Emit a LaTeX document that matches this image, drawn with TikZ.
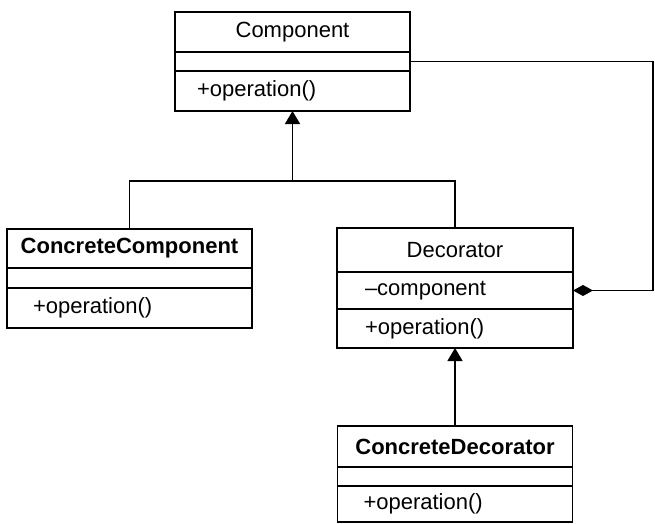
\documentclass[tikz,border=0pt]{standalone}
\usepackage{fontspec}
\setmainfont{Liberation Sans}
\usetikzlibrary{positioning,arrows.meta}

\newcommand\umlfont{\fontsize{22}{24}\selectfont}

\tikzset{
  compart/.style={draw, line width=1.4pt, outer sep=0pt, inner sep=0pt, font=\umlfont},
  classname/.style={compart, align=center},
  member/.style={compart, align=left, inner xsep=26pt},
  inherit/.style={line width=1.4pt, -{Triangle[length=13pt,width=15pt]}},
  compose/.style={line width=1.4pt, {Diamond[length=20pt,width=11pt]}-}
}

\begin{document}
\begin{tikzpicture}[x=1pt,y=-1pt,node distance=0pt]
\useasboundingbox (0,0) rectangle (655,524);

% Component
\node[classname, minimum width=235, minimum height=40, text width=235] (compname) at (292.5,32) {Component};
\node[member, minimum width=235, minimum height=19, text width=191, inner xsep=22pt, below=of compname] (compattr) {};
\node[member, minimum width=235, minimum height=40, text width=191, inner xsep=22pt, below=of compattr] (compops) {+operation()};

% ConcreteComponent
\node[classname, minimum width=245, minimum height=39, text width=245] (ccname) at (129.5,248.5) {\bfseries ConcreteComponent};
\node[member, minimum width=245, minimum height=20, text width=193, below=of ccname] (ccattr) {};
\node[member, minimum width=245, minimum height=40, text width=193, below=of ccattr] (ccops) {+operation()};

% Decorator
\node[classname, minimum width=236, minimum height=44, text width=236] (decname) at (455,250) {Decorator};
\node[member, minimum width=236, minimum height=37, text width=180, inner xsep=28pt, below=of decname] (decattr) {--component};
\node[member, minimum width=236, minimum height=39, text width=180, inner xsep=28pt, below=of decattr] (decops) {+operation()};

% ConcreteDecorator
\node[classname, minimum width=235, minimum height=41, text width=235] (cdname) at (455,446.5) {\bfseries ConcreteDecorator};
\node[member, minimum width=235, minimum height=19, text width=183, below=of cdname] (cdattr) {};
\node[member, minimum width=235, minimum height=36, text width=183, below=of cdattr] (cdops) {+operation()};

% generalisation
\coordinate (junction) at (292.5,181);
\draw[line width=1.4pt] (ccname.north) |- (junction) -| (decname.north);
\draw[inherit] (junction) -- (compops.south);
\draw[inherit] (cdname.north) -- (decops.south);

% composition
\coordinate (rail) at (653,0);
\draw[compose] (decattr.east) -- (decattr.east -| rail) -- (compattr.east -| rail) -- (compattr.east);
\end{tikzpicture}
\end{document}
